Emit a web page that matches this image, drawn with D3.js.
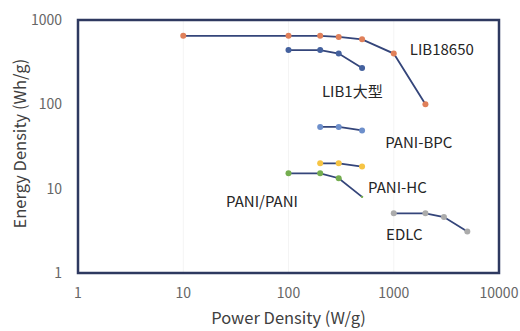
<!DOCTYPE html>
<html lang="ja">
<head>
  <meta charset="UTF-8">
  <title>Energy Density vs Power Density</title>
  <script src="https://cdnjs.cloudflare.com/ajax/libs/d3/7.8.5/d3.min.js"></script>
  <style>
    body {
      margin: 0;
      background: white;
    }
    svg {
      display: block;
      background: white;
    }
    text {
      font-family: "Noto Sans CJK JP", "Noto Sans", sans-serif;
    }
    .tick-label {
      fill: #666666;
      font-size: 14px;
    }
    .axis-title {
      fill: #404040;
      font-size: 16.5px;
    }
    .series-label {
      fill: #262626;
      font-size: 15px;
    }
  </style>
</head>
<body>
  <script>
    // data
    var xTicks = [1, 10, 100, 1000, 10000];
    var yTicks = [1, 10, 100, 1000];

    var lib18650Power = [10, 100, 200, 300, 500, 1000, 2000];
    var lib18650Energy = [650, 650, 650, 630, 590, 400, 100];

    var lib1Power = [100, 200, 300, 500];
    var lib1Energy = [440, 440, 400, 270];

    var paniBpcPower = [200, 300, 500];
    var paniBpcEnergy = [54, 54, 49];

    var paniHcPower = [200, 300, 500];
    var paniHcEnergy = [20, 20, 18.3];

    var paniPaniPower = [100, 200, 300, 500];
    var paniPaniEnergy = [15.2, 15.2, 13.3, 8];

    var edlcPower = [1000, 2000, 3000, 5000];
    var edlcEnergy = [5.1, 5.1, 4.6, 3.1];

    var seriesNames = ["LIB18650", "LIB1大型", "PANI-BPC", "PANI-HC", "PANI/PANI", "EDLC"];
    var seriesColors = ["#e0805a", "#44619e", "#6d8fcb", "#f6c444", "#74ad4f", "#ababab"];

    var series = [
      [lib18650Power, lib18650Energy],
      [lib1Power, lib1Energy],
      [paniBpcPower, paniBpcEnergy],
      [paniHcPower, paniHcEnergy],
      [paniPaniPower, paniPaniEnergy],
      [edlcPower, edlcEnergy]
    ].map(function(s, i) {
      return {
        name: seriesNames[i],
        color: seriesColors[i],
        points: s[0].map(function(p, j) { return { x: p, y: s[1][j] }; })
      };
    });

    // label anchor: a (power, energy) spot in data space
    var labelPower = [1420, 208, 830, 570, 25.5, 845];
    var labelEnergy = [385, 122, 30.4, 8.9, 6.1, 2.46];

    var w = 520;
    var h = 331;
    var margin = { top: 20, right: 21, bottom: 58, left: 78 };

    var svg = d3.select("body").append("svg")
      .attr("width", w)
      .attr("height", h);

    var xScale = d3.scaleLog()
      .domain([1, 10000])
      .range([margin.left, w - margin.right]);

    var yScale = d3.scaleLog()
      .domain([1, 1000])
      .range([h - margin.bottom, margin.top]);

    // faint decade grid
    svg.selectAll(".grid")
      .data(xTicks.slice(1, -1))
      .enter()
      .append("line")
      .attr("x1", function(d) { return xScale(d); })
      .attr("x2", function(d) { return xScale(d); })
      .attr("y1", yScale(1000))
      .attr("y2", yScale(1))
      .attr("stroke", "#f4f4f4")
      .attr("stroke-width", 1);

    // tick labels
    svg.selectAll(".x-tick")
      .data(xTicks)
      .enter()
      .append("text")
      .attr("class", "tick-label")
      .attr("x", function(d) { return xScale(d); })
      .attr("y", yScale(1) + 25)
      .attr("text-anchor", "middle")
      .text(function(d) { return d; });

    svg.selectAll(".y-tick")
      .data(yTicks)
      .enter()
      .append("text")
      .attr("class", "tick-label")
      .attr("x", margin.left - 16)
      .attr("y", function(d) { return yScale(d); })
      .attr("dy", "0.35em")
      .attr("text-anchor", "end")
      .text(function(d) { return d; });

    // series lines and markers
    var line = d3.line()
      .x(function(d) { return xScale(d.x); })
      .y(function(d) { return yScale(d.y); });

    var groups = svg.selectAll(".series")
      .data(series)
      .enter()
      .append("g");

    groups.append("path")
      .attr("d", function(d) { return line(d.points); })
      .attr("fill", "none")
      .attr("stroke", "#34457a")
      .attr("stroke-width", 1.8);

    groups.selectAll("circle")
      .data(function(d) {
        return d.points.map(function(p, j) {
          // the last PANI/PANI marker is barely drawn in the original
          var small = d.name === "PANI/PANI" && j === d.points.length - 1;
          return { p: p, color: d.color, r: small ? 1.2 : 3 };
        });
      })
      .enter()
      .append("circle")
      .attr("cx", function(d) { return xScale(d.p.x); })
      .attr("cy", function(d) { return yScale(d.p.y); })
      .attr("r", function(d) { return d.r; })
      .attr("fill", function(d) { return d.color; });

    svg.selectAll(".series-label")
      .data(seriesNames)
      .enter()
      .append("text")
      .attr("class", "series-label")
      .attr("x", function(d, i) { return xScale(labelPower[i]); })
      .attr("y", function(d, i) { return yScale(labelEnergy[i]); })
      .text(function(d) { return d; });

    // plot frame
    svg.append("rect")
      .attr("x", margin.left)
      .attr("y", margin.top)
      .attr("width", w - margin.left - margin.right)
      .attr("height", h - margin.top - margin.bottom)
      .attr("fill", "none")
      .attr("stroke", "#2e3960")
      .attr("stroke-width", 2.5);

    // axis titles
    svg.append("text")
      .attr("class", "axis-title")
      .attr("x", (margin.left + w - margin.right) / 2)
      .attr("y", h - 7)
      .attr("text-anchor", "middle")
      .text("Power Density (W/g)");

    svg.append("text")
      .attr("class", "axis-title")
      .attr("transform", "translate(26," + ((margin.top + h - margin.bottom) / 2 - 3) + ") rotate(-90)")
      .attr("text-anchor", "middle")
      .text("Energy Density (Wh/g)");
  </script>
</body>
</html>
